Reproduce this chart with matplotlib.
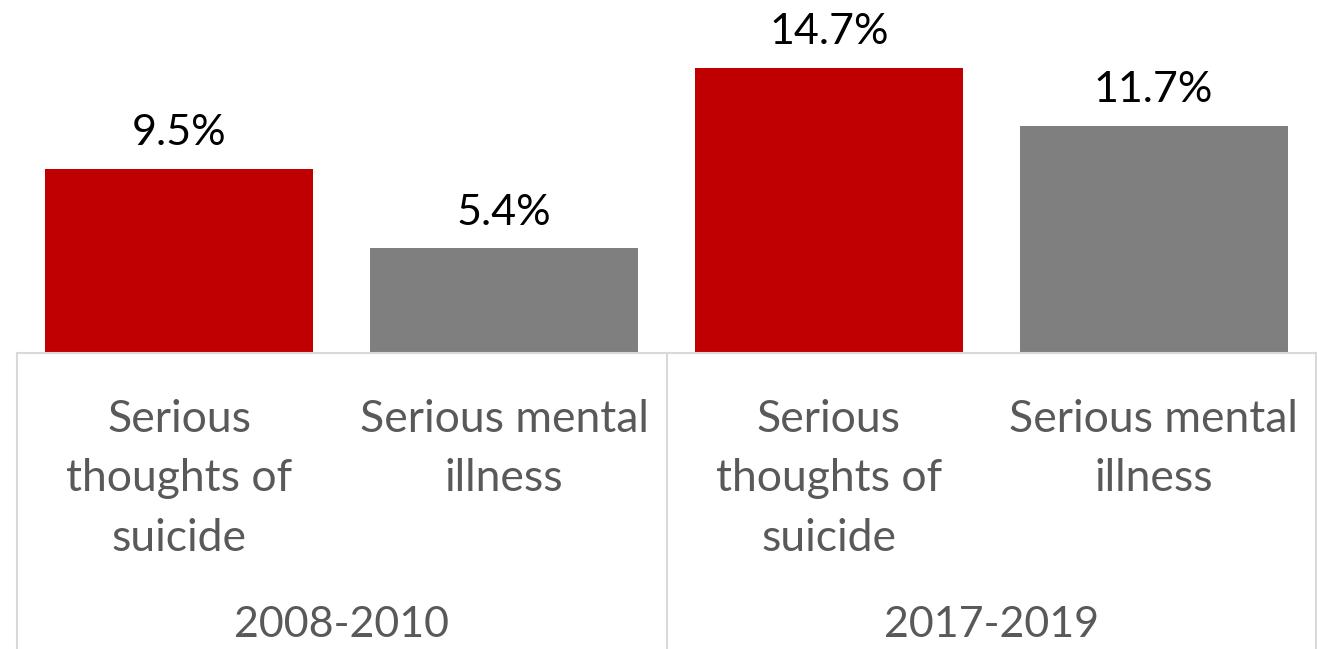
import matplotlib.pyplot as plt
from matplotlib.lines import Line2D
from matplotlib.transforms import blended_transform_factory

plt.rcParams['font.family'] = ['Lato', 'DejaVu Sans']

# Данные
periods = ['2008-2010', '2017-2019']
categories = ['Serious\nthoughts of\nsuicide', 'Serious mental\nillness',
              'Serious\nthoughts of\nsuicide', 'Serious mental\nillness']
values = [9.5, 5.4, 14.7, 11.7]
colors = ['#C00000', '#7F7F7F', '#C00000', '#7F7F7F']

W, H = 1317, 649
fig = plt.figure(figsize=(W / 100, H / 100), dpi=100)
left, right, base = 17, 1316, 353
ax = fig.add_axes([left / W, 1 - base / H, (right - left) / W, base / H])

x = list(range(len(values)))
ax.bar(x, values, width=0.825, color=colors)
ax.set_xlim(-0.5, len(values) - 0.5)
ax.set_ylim(0, base / 19.4)

for xi, v in zip(x, values):
    ax.annotate(f'{v:.1f}%', (xi, v), xytext=(0, 12), textcoords='offset points',
                ha='center', va='bottom', fontsize=31, color='black')

for s in ['top', 'left', 'right']:
    ax.spines[s].set_visible(False)
ax.spines['bottom'].set_color('#D9D9D9')
ax.spines['bottom'].set_linewidth(1.5)
ax.set_xticks([])
ax.set_yticks([])

# Подписи категорий
trans = blended_transform_factory(ax.transData, fig.transFigure)
for xi, lab in zip(x, categories):
    ax.text(xi, 1 - 399 / H, lab, transform=trans, ha='center', va='top',
            fontsize=32, color='#595959', linespacing=1.56)

for i, p in enumerate(periods):
    ax.text(2 * i + 0.5, 1 - 625 / H, p, transform=trans, ha='center', va='center',
            fontsize=31, color='#595959')

# Разделители групп
for px in [left, 667, right]:
    fig.add_artist(Line2D([px / W, px / W], [0, 1 - base / H],
                          color='#D9D9D9', linewidth=1.5))

fig.savefig('out.png', dpi=100)
